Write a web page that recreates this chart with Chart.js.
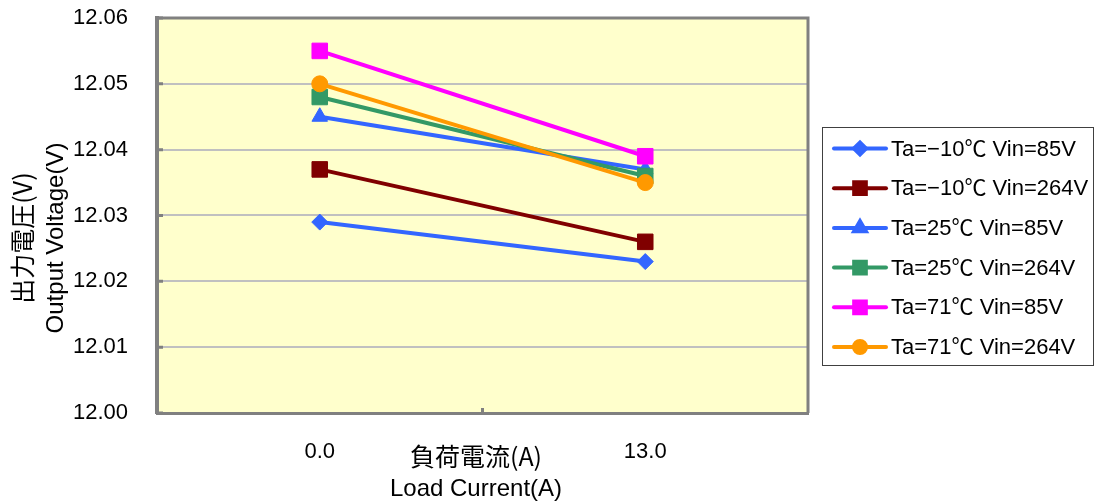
<!DOCTYPE html>
<html>
<head>
<meta charset="utf-8">
<script src="https://cdn.jsdelivr.net/npm/chart.js@4/dist/chart.umd.min.js"></script>
<style>
html,body{margin:0;padding:0;background:#fff}
</style>
</head>
<body>
<canvas id="chart" width="1098" height="502"></canvas>
<script>
// data
const loadCurrent = ['0.0', '13.0']
const seriesNames = ['Ta=−10℃ Vin=85V', 'Ta=−10℃ Vin=264V', 'Ta=25℃ Vin=85V', 'Ta=25℃ Vin=264V', 'Ta=71℃ Vin=85V', 'Ta=71℃ Vin=264V']
const ta_m10_vin85 = [12.029, 12.023]
const ta_m10_vin264 = [12.037, 12.026]
const ta25_vin85 = [12.045, 12.037]
const ta25_vin264 = [12.048, 12.036]
const ta71_vin85 = [12.055, 12.039]
const ta71_vin264 = [12.050, 12.035]
const yMin = 12.00, yMax = 12.06, yStep = 0.01

const seriesValues = [ta_m10_vin85, ta_m10_vin264, ta25_vin85, ta25_vin264, ta71_vin85, ta71_vin264]
const seriesColors = ['#3366FF', '#800000', '#3366FF', '#339966', '#FF00FF', '#FF9900']
const seriesMarkers = ['rectRot', 'rect', 'triangle', 'rect', 'rect', 'circle']
const markerRadius = [8, 11, 9, 11, 11, 8]

const FONT = '"Liberation Sans", "Noto Sans CJK JP", sans-serif'
const JFONT = '"Noto Sans CJK JP", "Liberation Sans", sans-serif'

const plotBg = {
    id: 'plotBg',
    beforeDraw(chart){
        const a = chart.chartArea, ctx = chart.ctx
        ctx.save()
        ctx.fillStyle = '#FFFFCC'
        ctx.fillRect(a.left, a.top, a.right - a.left, a.bottom - a.top)
        ctx.restore()
    },
    beforeDatasetsDraw(chart){
        const a = chart.chartArea, ctx = chart.ctx
        ctx.save()
        ctx.strokeStyle = '#808080'
        ctx.lineWidth = 3
        ctx.beginPath()
        ctx.moveTo(a.left, a.top)
        ctx.lineTo(a.right, a.top)
        ctx.lineTo(a.right, a.bottom)
        ctx.stroke()
        // short inside ticks, like the original
        const mid = (a.left + a.right) / 2
        ctx.beginPath()
        ctx.moveTo(mid, a.bottom)
        ctx.lineTo(mid, a.bottom - 5)
        chart.scales.y.ticks.forEach(t => {
            const py = chart.scales.y.getPixelForValue(t.value)
            ctx.moveTo(a.left, py)
            ctx.lineTo(a.left + 6, py)
        })
        ctx.stroke()
        ctx.restore()
    }
}

const titles = {
    id: 'titles',
    afterDraw(chart){
        const ctx = chart.ctx
        ctx.save()
        ctx.fillStyle = '#000'
        ctx.textAlign = 'center'
        ctx.textBaseline = 'middle'
        ctx.font = '25px ' + JFONT
        ctx.fillText('負荷電流(A)', 476, 456)
        ctx.font = '24px ' + FONT
        ctx.fillText('Load Current(A)', 476, 489)
        ctx.translate(22, 238)
        ctx.rotate(-Math.PI / 2)
        ctx.font = '25px ' + JFONT
        ctx.fillText('出力電圧(V)', 0, 0)
        ctx.font = '24px ' + FONT
        ctx.fillText('Output Voltage(V)', 0, 34)
        ctx.restore()
    }
}

const boxLegend = {
    id: 'boxLegend',
    afterDraw(chart){
        const ctx = chart.ctx
        ctx.save()
        ctx.strokeStyle = '#404040'
        ctx.lineWidth = 1
        ctx.strokeRect(822.5, 127.5, 271, 238)
        chart.data.datasets.forEach((ds, i) => {
            const y = 148.5 + i * 39.7
            ctx.strokeStyle = ds.borderColor
            ctx.lineWidth = 4
            ctx.lineCap = 'round'
            ctx.beginPath()
            ctx.moveTo(834, y)
            ctx.lineTo(886, y)
            ctx.stroke()
            Chart.helpers.drawPoint(ctx, {
                pointStyle: ds.pointStyle,
                radius: ds.pointRadius * 0.75,
                borderWidth: 1,
                rotation: 0
            }, 860, y)
            ctx.fillStyle = ds.borderColor
            ctx.strokeStyle = ds.borderColor
            ctx.fill()
            ctx.fillStyle = '#000'
            ctx.font = '22px ' + FONT
            ctx.textAlign = 'left'
            ctx.textBaseline = 'middle'
            ctx.fillText(ds.label, 891, y + 1)
        })
        ctx.restore()
    }
}

const datasets = seriesValues.map((vals, i) => ({
    label: seriesNames[i],
    data: vals,
    borderColor: seriesColors[i],
    backgroundColor: seriesColors[i],
    borderWidth: 4,
    pointStyle: seriesMarkers[i],
    pointRadius: markerRadius[i],
    pointBorderWidth: 1,
    tension: 0,
    order: seriesValues.length - i
}))

new Chart(document.getElementById('chart'), {
    type: 'line',
    data: { labels: loadCurrent, datasets: datasets },
    options: {
        responsive: false,
        animation: false,
        layout: { padding: { top: 18, right: 290, left: 0, bottom: 0 } },
        plugins: { legend: { display: false }, tooltip: { enabled: false } },
        scales: {
            x: {
                offset: true,
                grid: { display: false, drawTicks: false },
                border: { color: '#808080', width: 3 },
                ticks: { color: '#000', font: { family: FONT, size: 22 }, padding: 26 },
                afterFit(s){ s.height = 89; s.paddingLeft = 0; s.paddingRight = 0 }
            },
            y: {
                min: yMin, max: yMax,
                grid: { color: '#C0C0C0', lineWidth: 2, drawTicks: false },
                border: { color: '#808080', width: 4 },
                ticks: {
                    stepSize: yStep, color: '#000', padding: 29,
                    font: { family: FONT, size: 22 },
                    callback: v => v.toFixed(2)
                },
                afterFit(s){ s.width = 157; s.paddingTop = 0; s.paddingBottom = 0 }
            }
        }
    },
    plugins: [plotBg, titles, boxLegend]
})
</script>
</body>
</html>
